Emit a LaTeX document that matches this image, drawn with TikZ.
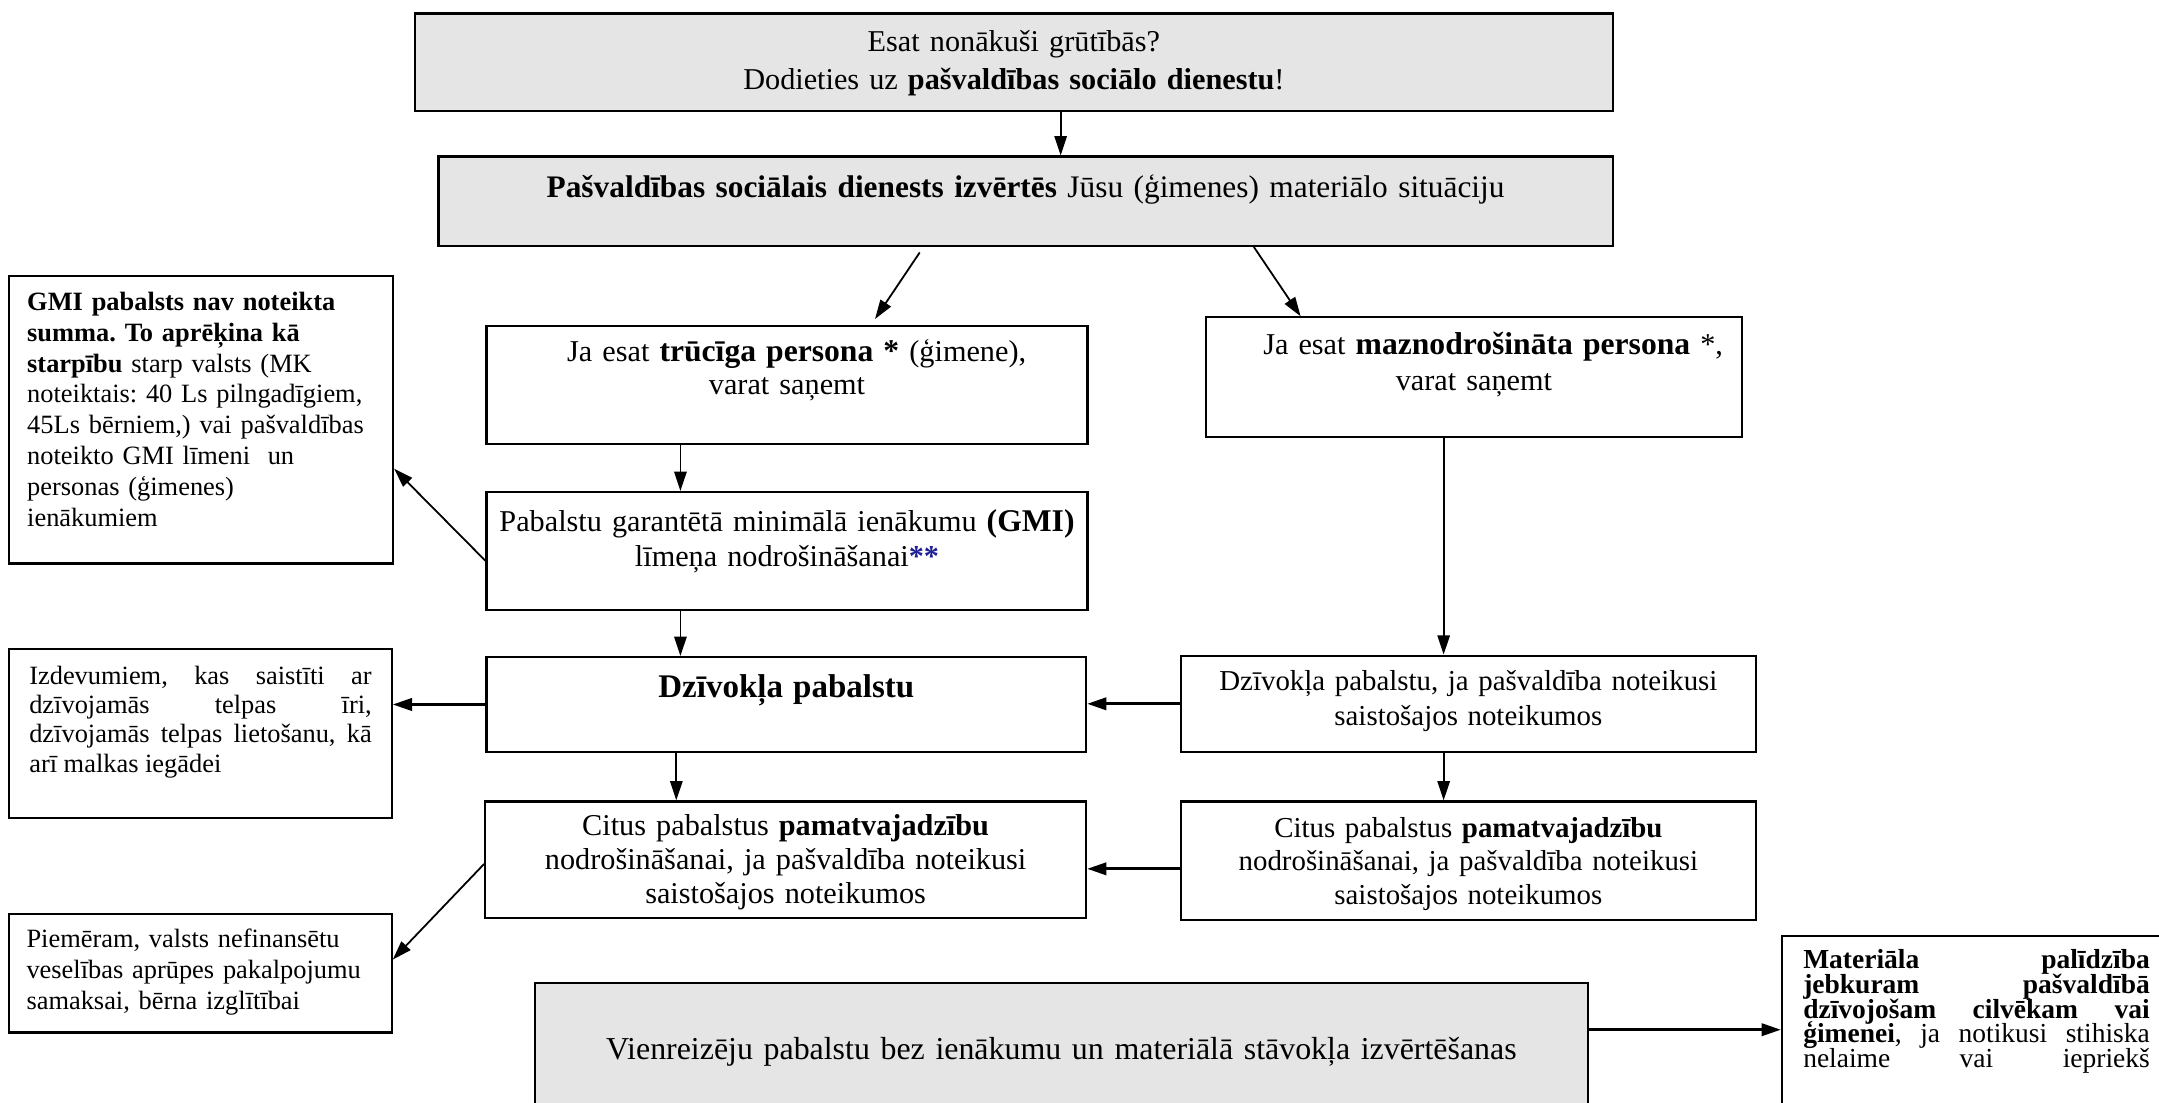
\documentclass[tikz,border=0pt]{standalone}
\usepackage{fontspec}
\setmainfont{Liberation Serif}
\usetikzlibrary{arrows.meta}

\definecolor{boxgray}{gray}{0.9}
\definecolor{starblue}{RGB}{30,30,150}
\newcommand{\tightlines}{\lineskiplimit=-6pt\relax}

\tikzset{
  flowbox/.style={draw, line width=0.8pt, inner sep=0pt, anchor=north west, align=center,
    font=\fontsize{11}{12.5}\selectfont},
  graybox/.style={flowbox, fill=boxgray},
  notebox/.style={flowbox, font=\fontsize{9.6}{11.2}\selectfont},
  flowarrow/.style={-{Triangle[length=7pt,width=4.5pt]}, line width=0.65pt},
  sidearrow/.style={flowarrow, line width=1pt},
}

\begin{document}
\frenchspacing\hyphenpenalty=10000
\begin{tikzpicture}[x=0.5pt,y=-0.5pt]
  \useasboundingbox (0,0) rectangle (1570,802);
  \clip (0,0) rectangle (1570,802);

  % grey boxes
  \node[graybox, minimum width=435.5pt, text width=420pt, text height=14pt, text depth=21.5pt,
    font=\fontsize{11}{13.5}\selectfont] (start) at (301,9)
    {Esat nonākuši grūtībās?\\ Dodieties uz \textbf{pašvaldības sociālo dienestu}!};
  \node[graybox, minimum width=427pt, text width=415pt, text height=15pt, text depth=17.5pt,
    font=\fontsize{11.4}{12.5}\selectfont] (eval) at (318,113)
    {\textbf{Pašvaldības sociālais dienests izvērtēs} Jūsu (ģimenes) materiālo situāciju};
  \node[graybox, minimum width=383pt, text width=370pt, text height=28pt, text depth=35pt,
    font=\fontsize{11.6}{12.5}\selectfont] (vienr) at (388,714)
    {Vienreizēju pabalstu bez ienākumu un materiālā stāvokļa izvērtēšanas};

  % left column
  \node[flowbox, minimum width=218.5pt, text width=216pt, text height=13pt, text depth=30pt,
    font=\fontsize{11}{12}\selectfont] (trucigs) at (353,236)
    {\hspace*{7pt}Ja esat {\fontsize{11.5}{12}\selectfont\textbf{trūcīga persona *}} (ģimene),\\ varat saņemt};
  \node[flowbox, minimum width=218.5pt, text width=217pt, text height=14.5pt, text depth=28.5pt] (gmilvl) at (353,357)
    {Pabalstu garantētā minimālā ienākumu {\fontsize{11.5}{12}\selectfont\textbf{(GMI)}}\\
     līmeņa nodrošināšanai\textcolor{starblue}{\textbf{**}}};
  \node[flowbox, minimum width=218pt, text width=210pt, text height=14.7pt, text depth=19.8pt] (dzivl) at (353,477)
    {{\fontsize{12}{12}\selectfont\textbf{Dzīvokļa pabalstu}}};
  \node[flowbox, minimum width=218.5pt, text width=210pt, text height=12.5pt, text depth=30pt,
    font=\fontsize{11}{12.25}\selectfont] (citl) at (352,582)
    {Citus pabalstus \textbf{pamatvajadzību}\\ nodrošināšanai, ja pašvaldība noteikusi\\ saistošajos noteikumos};

  % right column
  \node[flowbox, minimum width=195pt, text width=190pt, text height=13.5pt, text depth=30pt,
    font=\fontsize{11}{13}\selectfont] (mazn) at (876,230)
    {\hspace*{14pt}Ja esat {\fontsize{11.5}{12}\selectfont\textbf{maznodrošināta persona}} *,\\ varat saņemt};
  \node[flowbox, minimum width=209pt, text width=205pt, text height=12.5pt, text depth=22.5pt,
    font=\fontsize{10.5}{13}\selectfont] (dzivr) at (858,476)
    {Dzīvokļa pabalstu, ja pašvaldība noteikusi\\ saistošajos noteikumos};
  \node[flowbox, minimum width=209pt, text width=205pt, text height=13pt, text depth=30pt,
    font=\fontsize{10.5}{12.25}\selectfont] (citr) at (858,582)
    {Citus pabalstus \textbf{pamatvajadzību}\\ nodrošināšanai, ja pašvaldība noteikusi\\ saistošajos noteikumos};

  % notes on the left and right
  \node[notebox, align=left, minimum width=139.5pt, text width=126.5pt, text height=12.5pt, text depth=92pt] (gmiinfo) at (6,200)
    {\textbf{GMI pabalsts nav noteikta}\\ \textbf{summa. To aprēķina kā}\\ \textbf{starpību} starp valsts (MK\\
     noteiktais: 40 Ls pilngadīgiem,\\ 45Ls bērniem,) vai pašvaldības\\ noteikto GMI līmeni\ \ un\\
     personas (ģimenes)\\ ienākumiem};
  \node[notebox, align=justify, minimum width=139pt, text width=124.5pt, text height=12.8pt, text depth=48.7pt,
    font=\fontsize{9.6}{10.7}\selectfont] (izdev) at (6,471)
    {Izdevumiem, kas saistīti ar\linebreak dzīvojamās telpas īri,\linebreak
     dzīvojamās telpas lietošanu, kā\linebreak arī malkas iegādei};
  \node[notebox, align=left, minimum width=139pt, text width=126.5pt, text height=12.1pt, text depth=30.9pt] (piem) at (6,664)
    {Piemēram, valsts nefinansētu\\ veselības aprūpes pakalpojumu\\ samaksai, bērna izglītībai};
  \node[notebox, align=justify, minimum width=141.5pt, text width=126pt, text height=11.8pt, text depth=68.2pt,
    font={\fontsize{10}{9}\selectfont\tightlines}] (matpal) at (1295,680)
    {\textbf{Materiāla palīdzība\linebreak jebkuram pašvaldībā\linebreak dzīvojošam cilvēkam vai\linebreak
     ģimenei}, ja notikusi stihiska\linebreak nelaime vai iepriekš\linebreak};

  % arrows
  \draw[flowarrow] ([xshift=17pt]start.south) -- ([xshift=17pt]start.south |- eval.north);
  \draw[flowarrow] ([xshift=-38.5pt,yshift=-2pt]eval.south) -- ([xshift=32pt,yshift=2pt]trucigs.north);
  \draw[flowarrow] ([xshift=83pt]eval.south) -- ([xshift=-63pt]mazn.north);
  \draw[flowarrow] ([xshift=-38.75pt]trucigs.south) -- ([xshift=-38.75pt]trucigs.south |- gmilvl.north);
  \draw[flowarrow] ([yshift=-3.5pt]gmilvl.west) -- ([yshift=-17.75pt]gmiinfo.east);
  \draw[flowarrow] ([xshift=-38.75pt]gmilvl.south) -- ([xshift=-38.75pt]gmilvl.south |- dzivl.north);
  \draw[sidearrow] (dzivl.west) -- (dzivl.west -| izdev.east);
  \draw[flowarrow] ([xshift=-11pt]mazn.south) -- ([xshift=-11pt]mazn.south |- dzivr.north);
  \draw[sidearrow] (dzivr.west) -- (dzivr.west -| dzivl.east);
  \draw[flowarrow] ([xshift=-40pt]dzivl.south) -- ([xshift=-40pt]dzivl.south |- citl.north);
  \draw[flowarrow] ([xshift=-9pt]dzivr.south) -- ([xshift=-9pt]dzivr.south |- citr.north);
  \draw[sidearrow] ([yshift=-3pt]citr.west) -- ([yshift=-3pt]citr.west -| citl.east);
  \draw[flowarrow] ([yshift=-1.5pt]citl.west) -- ([yshift=5pt]piem.east);
  \draw[sidearrow] ([yshift=14.5pt]vienr.east) -- ([yshift=14.5pt]vienr.east -| matpal.west);
\end{tikzpicture}
\end{document}
